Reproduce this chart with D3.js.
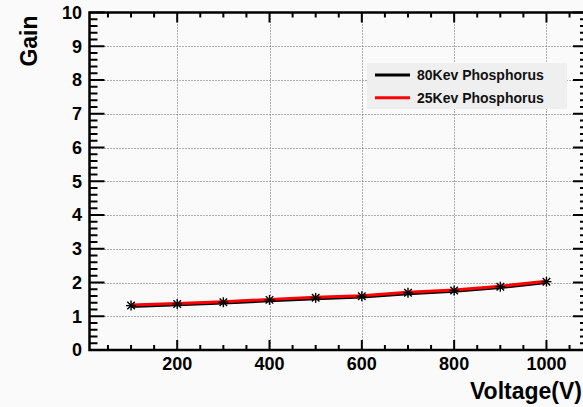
<!DOCTYPE html>
<html>
<head>
<meta charset="utf-8">
<script src="https://cdn.jsdelivr.net/npm/d3@7"></script>
<style>
  html, body { margin: 0; padding: 0; background: #fafafa; }
  svg { display: block; font-family: "Liberation Sans", Arial, Helvetica, sans-serif; }
</style>
</head>
<body>
<svg id="chart" width="583" height="407"></svg>
<script>
// ---- data ----
const voltages = [100, 200, 300, 400, 500, 600, 700, 800, 900, 1000];
const gain80 = [1.29, 1.34, 1.39, 1.46, 1.52, 1.57, 1.67, 1.74, 1.85, 2.00];
const gain25 = [1.33, 1.38, 1.43, 1.50, 1.56, 1.61, 1.71, 1.78, 1.89, 2.04];
const seriesNames = ["80Kev Phosphorus", "25Kev Phosphorus"];
const seriesColors = ["#000000", "#ff0000"];
const xTicks = [200, 400, 600, 800, 1000];
const yTicks = [0, 1, 2, 3, 4, 5, 6, 7, 8, 9, 10];
const xTitle = "Voltage(V)";
const yTitle = "Gain";

const svg = d3.select("#chart");
const x = d3.scaleLinear().domain([10, 1090]).range([89.5, 588]);
const y = d3.scaleLinear().domain([0, 10]).range([350, 12.5]);

const x0 = x(10), x1 = x(1090), y0 = y(0), y1 = y(10);

// grid
const grid = svg.append("g").attr("stroke", "#666").attr("stroke-width", 1).attr("stroke-dasharray", "1,2");
grid.selectAll("line.gx").data(xTicks).join("line")
  .attr("x1", d => Math.round(x(d)) + 0.5).attr("x2", d => Math.round(x(d)) + 0.5)
  .attr("y1", y1).attr("y2", y0);
grid.selectAll("line.gy").data(yTicks.filter(d => d > 0 && d < 10)).join("line")
  .attr("y1", d => Math.round(y(d)) + 0.5).attr("y2", d => Math.round(y(d)) + 0.5)
  .attr("x1", x0).attr("x2", x1);

// ticks
const xMinor = d3.range(50, 1090, 50);
const yMinor = d3.range(0, 10.001, 0.2).map(v => +v.toFixed(1));
const tk = svg.append("g").attr("stroke", "#000").attr("stroke-width", 2);
xMinor.forEach(v => {
  const major = v % 200 === 0;
  const len = major ? 10 : 5;
  tk.append("line").attr("x1", x(v)).attr("x2", x(v)).attr("y1", y0).attr("y2", y0 - len);
  tk.append("line").attr("x1", x(v)).attr("x2", x(v)).attr("y1", y1).attr("y2", y1 + len);
});
yMinor.forEach(v => {
  const major = Math.abs(v - Math.round(v)) < 1e-6;
  const len = major ? 15 : 8;
  tk.append("line").attr("y1", y(v)).attr("y2", y(v)).attr("x1", x0).attr("x2", x0 + len);
  tk.append("line").attr("y1", y(v)).attr("y2", y(v)).attr("x1", x1).attr("x2", x1 - len);
});

// frame
svg.append("rect").attr("x", x0).attr("y", y1).attr("width", x1 - x0).attr("height", y0 - y1)
  .attr("fill", "none").attr("stroke", "#000").attr("stroke-width", 2.5);

// tick labels
svg.append("g").selectAll("text").data(yTicks).join("text")
  .attr("x", 82).attr("y", d => y(d)).attr("dy", "0.36em")
  .attr("text-anchor", "end").attr("font-size", 18).attr("font-weight", "bold")
  .text(d => d);
svg.append("g").selectAll("text").data(xTicks).join("text")
  .attr("x", d => x(d)).attr("y", 370)
  .attr("text-anchor", "middle").attr("font-size", 18).attr("font-weight", "bold")
  .text(d => d);

// titles
svg.append("text").attr("x", 582).attr("y", 399).attr("text-anchor", "end")
  .attr("font-size", 23).attr("font-weight", "bold").text(xTitle);
svg.append("text").attr("transform", "translate(36.5,41) rotate(-90)").attr("text-anchor", "middle")
  .attr("font-size", 23).attr("font-weight", "bold").text(yTitle);

// lines
const line = d3.line().x((d, i) => x(voltages[i])).y(d => y(d));
[gain80, gain25].forEach((s, k) => {
  svg.append("path").datum(s).attr("d", line).attr("fill", "none")
    .attr("stroke", seriesColors[k]).attr("stroke-width", 3);
});

// markers (asterisk)
const mk = svg.append("g").attr("stroke", "#000").attr("stroke-width", 1.4);
gain25.forEach((v, i) => {
  const cx = x(voltages[i]), cy = y(v) + 0.5, r = 5;
  const g = mk.append("g").attr("transform", `translate(${cx},${cy})`);
  g.append("line").attr("x1", -r).attr("x2", r).attr("y1", 0).attr("y2", 0);
  g.append("line").attr("x1", 0).attr("x2", 0).attr("y1", -r).attr("y2", r);
  g.append("line").attr("x1", -r * 0.75).attr("x2", r * 0.75).attr("y1", -r * 0.75).attr("y2", r * 0.75);
  g.append("line").attr("x1", -r * 0.75).attr("x2", r * 0.75).attr("y1", r * 0.75).attr("y2", -r * 0.75);
});

// legend
const lg = svg.append("g");
lg.append("rect").attr("x", 367).attr("y", 63).attr("width", 200).attr("height", 46).attr("fill", "#efefef");
seriesNames.forEach((name, k) => {
  const ly = 75 + k * 22.7;
  lg.append("line").attr("x1", 375).attr("x2", 410).attr("y1", ly).attr("y2", ly)
    .attr("stroke", seriesColors[k]).attr("stroke-width", 3);
  lg.append("text").attr("x", 417).attr("y", ly).attr("dy", "0.36em")
    .attr("font-size", 14).attr("font-weight", "bold").attr("fill", "#111").text(name);
});
</script>
</body>
</html>
